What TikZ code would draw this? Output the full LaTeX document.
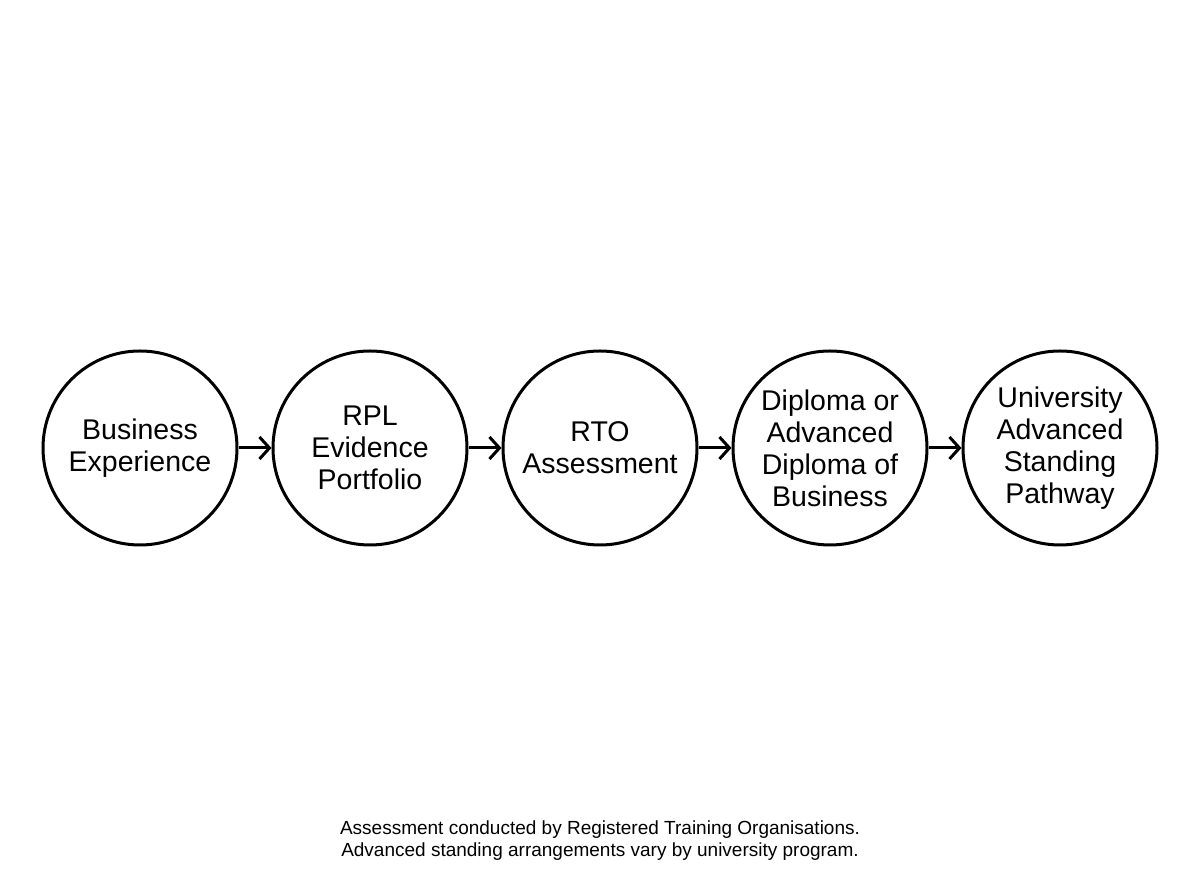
\documentclass[tikz,border=0pt]{standalone}
\usepackage{fontspec}
\setmainfont{Liberation Sans}
\usetikzlibrary{arrows.meta}
\begin{document}
\begin{tikzpicture}[x=1pt,y=1pt,
  stage/.style={circle,draw=black,line width=3pt,minimum size=194pt,inner sep=0pt,align=center,
    font=\fontsize{28.5}{32}\selectfont},
  flow/.style={line width=3pt,-{Straight Barb[length=10pt,width=22pt,line width=3pt]}},
  note/.style={align=center,font=\fontsize{19}{22}\selectfont}]
\useasboundingbox (0,0) rectangle (1200,896);
\node[stage] (a) at (140,448) {Business\\Experience};
\node[stage] (b) at (370,448) {RPL\\Evidence\\Portfolio};
\node[stage] (c) at (600,448) {RTO\\Assessment};
\node[stage] (d) at (830,448) {Diploma or\\Advanced\\Diploma of\\Business};
\node[stage] (e) at (1060,448) {University\\Advanced\\Standing\\Pathway};
\draw[flow] (a) -- (b);
\draw[flow] (b) -- (c);
\draw[flow] (c) -- (d);
\draw[flow] (d) -- (e);
\node[note] (n) at (600,55) {Assessment conducted by Registered Training Organisations.\\Advanced standing arrangements vary by university program.};
\end{tikzpicture}
\end{document}
